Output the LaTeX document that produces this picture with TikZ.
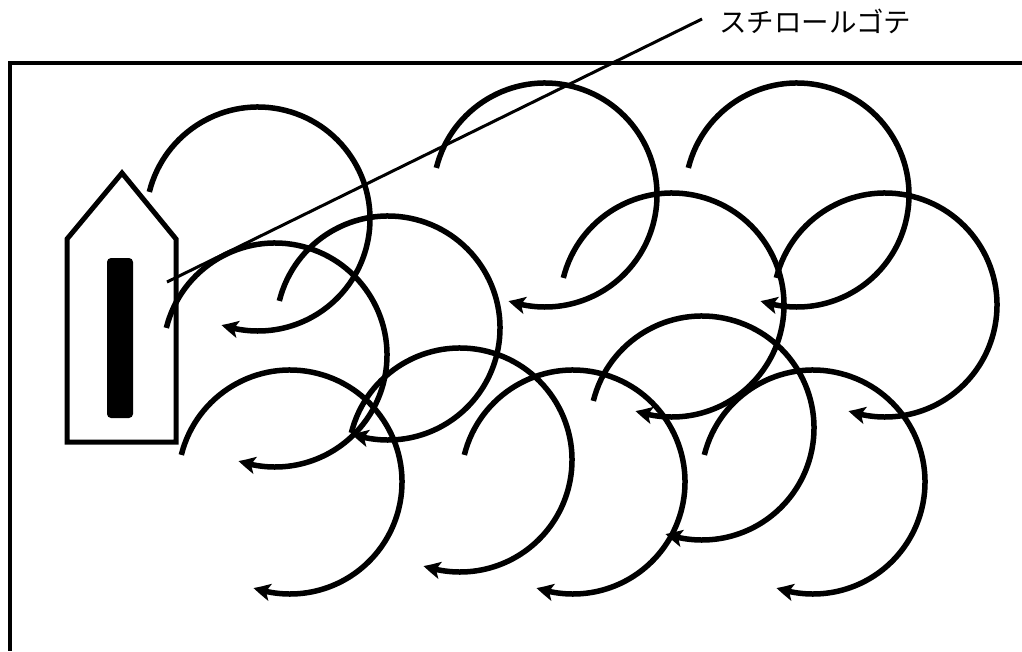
\documentclass[tikz,border=0pt]{standalone}
\usepackage{fontspec}
\newfontfamily\jpfont{Noto Sans CJK JP}
\usetikzlibrary{arrows.meta,bending}
\tikzset{
  swirl/.style={line width=5.5pt, -{Stealth[length=17pt,width=17pt,inset=4pt,bend]}},
  boatline/.style={line width=5pt, line join=miter},
  frameline/.style={line width=4pt},
  leader/.style={line width=3pt},
}
\newcommand{\swirlarc}[3]{% centre x, centre y, radius
  \draw[swirl] (#1,#2) ++(-166:#3) arc[start angle=-166, end angle=109, radius=#3];}
\begin{document}
\begin{tikzpicture}[x=1pt,y=-1pt]
\useasboundingbox (0,0) rectangle (1022,651);
% frame (open at right and bottom)
\draw[frameline] (1022,63) -- (10,63) -- (10,651);
% boat
\draw[boatline, fill=white] (67,442) -- (67,239) -- (122,173) -- (176,239) -- (176,442) -- cycle;
\fill[rounded corners=4pt] (107,258) rectangle (133,418);
% swirl arcs, top row
\swirlarc{258}{219}{112}
\swirlarc{545}{195}{112}
\swirlarc{797}{195}{112}
% middle row
\swirlarc{275}{355}{112}
\swirlarc{388}{328}{112}
\swirlarc{672}{305}{112}
\swirlarc{885}{305}{112}
% lower row
\swirlarc{290}{482}{112}
\swirlarc{460}{460}{112}
\swirlarc{573}{482}{112}
\swirlarc{702}{428}{112}
\swirlarc{813}{482}{112}
% label and leader
\node (label) [anchor=west, inner sep=0pt, font=\jpfont\fontsize{27.5}{32}\selectfont] at (719,21) {スチロールゴテ};
\coordinate (tip) at (167,282);
\coordinate (lend) at (702,19);
\draw[leader] (tip) -- (lend);
\end{tikzpicture}
\end{document}
